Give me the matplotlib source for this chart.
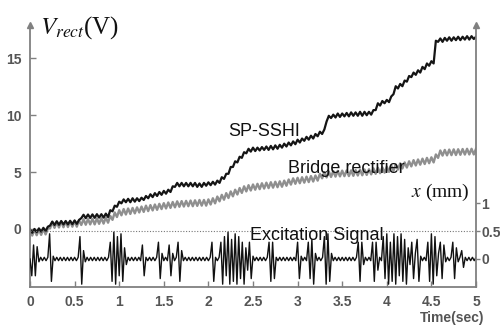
import matplotlib
matplotlib.use("Agg")
import matplotlib.pyplot as plt
import numpy as np

plt.rcParams['font.family'] = ['Liberation Sans', 'DejaVu Sans']
plt.rcParams['mathtext.fontset'] = 'stix'

# rectified voltage, sampled every 0.025 s from 0 to 5 s (V)
sp_sshi = [
    -0.05, -0.33, 0.0, -0.28, 0.05, -0.23, 0.1, -0.18,
    0.2, 0.3, 0.65, 0.35, 0.68, 0.37, 0.7, 0.4,
    0.7, 0.4, 0.72, 0.42, 0.75, 0.45, 0.8, 0.95,
    1.25, 0.95, 1.27, 0.97, 1.28, 0.98, 1.3, 1.0,
    1.3, 1.0, 1.35, 1.05, 1.65, 1.55, 2.05, 1.95,
    2.4, 2.25, 2.6, 2.35, 2.65, 2.35, 2.7, 2.4,
    2.7, 2.45, 2.75, 2.55, 2.9, 2.7, 3.05, 2.8,
    3.15, 2.9, 3.25, 3.0, 3.35, 3.1, 3.45, 3.25,
    3.75, 3.7, 4.05, 3.75, 4.05, 3.75, 4.05, 3.75,
    4.05, 3.75, 4.05, 3.7, 4.0, 3.7, 4.05, 3.8,
    4.1, 3.85, 4.15, 3.9, 4.25, 4.05, 4.55, 4.4,
    4.85, 4.85, 5.45, 5.45, 5.95, 5.85, 6.35, 6.25,
    6.75, 6.65, 7.05, 6.8, 7.15, 6.85, 7.15, 6.9,
    7.2, 6.95, 7.25, 6.95, 7.3, 7.0, 7.35, 7.05,
    7.4, 7.15, 7.5, 7.25, 7.6, 7.35, 7.7, 7.45,
    7.85, 7.6, 7.95, 7.75, 8.1, 7.85, 8.2, 7.95,
    8.35, 8.15, 8.55, 8.35, 8.75, 9.45, 9.95, 9.75,
    10.05, 9.8, 10.15, 9.85, 10.15, 9.9, 10.2, 9.9,
    10.25, 9.95, 10.25, 9.95, 10.3, 9.95, 10.3, 10.0,
    10.3, 10.05, 10.45, 10.45, 11.05, 10.85, 11.25, 11.05,
    11.35, 11.15, 11.65, 11.85, 12.55, 12.35, 12.75, 12.55,
    13.05, 12.95, 13.45, 13.35, 13.75, 13.55, 13.95, 13.75,
    14.25, 14.05, 14.55, 14.35, 14.75, 14.55, 16.55, 16.45,
    16.75, 16.45, 16.8, 16.55, 16.85, 16.55, 16.85, 16.6,
    16.9, 16.6, 16.9, 16.65, 16.95, 16.65, 16.95, 16.7,
    16.9,
]

bridge = [
    -0.1, -0.58, -0.05, -0.55, -0.03, -0.52, 0.0, -0.48,
    0.05, 0.05, 0.6, 0.1, 0.6, 0.13, 0.65, 0.15,
    0.65, 0.17, 0.67, 0.2, 0.7, 0.2, 0.75, 0.35,
    0.85, 0.37, 0.87, 0.4, 0.9, 0.4, 0.93, 0.45,
    0.95, 0.47, 1.0, 0.55, 1.15, 0.8, 1.45, 1.05,
    1.65, 1.2, 1.75, 1.27, 1.8, 1.32, 1.85, 1.37,
    1.9, 1.45, 1.97, 1.5, 2.05, 1.57, 2.1, 1.63,
    2.15, 1.68, 2.21, 1.75, 2.27, 1.8, 2.33, 1.85,
    2.37, 1.9, 2.43, 1.95, 2.45, 1.97, 2.47, 2.0,
    2.5, 2.0, 2.52, 2.03, 2.55, 2.05, 2.55, 2.05,
    2.6, 2.15, 2.7, 2.25, 2.85, 2.43, 3.0, 2.57,
    3.15, 2.72, 3.3, 2.87, 3.45, 3.03, 3.6, 3.17,
    3.75, 3.3, 3.85, 3.38, 3.91, 3.45, 3.97, 3.5,
    4.02, 3.55, 4.07, 3.59, 4.11, 3.63, 4.15, 3.67,
    4.19, 3.71, 4.25, 3.8, 4.35, 3.9, 4.45, 3.97,
    4.5, 4.02, 4.55, 4.07, 4.6, 4.12, 4.65, 4.17,
    4.7, 4.25, 4.85, 4.45, 5.0, 4.53, 5.05, 4.57,
    5.09, 4.6, 5.11, 4.62, 5.13, 4.64, 5.15, 4.65,
    5.15, 4.67, 5.18, 4.7, 5.21, 4.72, 5.23, 4.75,
    5.25, 4.8, 5.33, 4.85, 5.38, 4.9, 5.42, 4.95,
    5.47, 5.02, 5.57, 5.12, 5.67, 5.22, 5.77, 5.32,
    5.85, 5.4, 5.95, 5.5, 6.05, 5.58, 6.11, 5.65,
    6.18, 5.71, 6.25, 5.78, 6.3, 5.85, 6.55, 6.25,
    6.9, 6.45, 6.95, 6.47, 6.98, 6.49, 7.0, 6.5,
    7.01, 6.52, 7.03, 6.54, 7.05, 6.55, 7.05, 6.55,
    7.05,
]

# excitation displacement, sampled every 0.02 s (mm)
excitation = [
    0.0, -0.3, 0.25, -0.3, 0.22, -0.05, 0.03, -0.03, 0.03, -0.03,
    0.03, 0.45, -0.4, 0.05, -0.03, 0.03, -0.03, 0.03, -0.03, 0.03,
    -0.03, 0.03, -0.03, 0.03, -0.03, 0.03, -0.03, 0.03, 0.4, -0.45,
    0.15, -0.05, 0.03, -0.03, 0.03, -0.03, 0.03, -0.03, 0.03, -0.03,
    0.03, -0.03, 0.03, -0.03, 0.03, 0.3, -0.4, 0.48, -0.45, 0.4,
    -0.3, 0.45, -0.4, 0.2, -0.1, 0.03, -0.03, 0.03, -0.03, 0.03,
    -0.03, 0.03, -0.03, 0.25, -0.3, 0.03, -0.03, 0.03, -0.03, 0.03,
    -0.03, 0.03, 0.3, -0.35, 0.1, -0.03, 0.03, -0.03, 0.25, -0.3,
    0.1, -0.03, 0.03, 0.3, -0.4, 0.15, -0.03, 0.03, -0.03, 0.03,
    -0.03, 0.03, -0.03, 0.03, -0.03, 0.03, -0.03, 0.03, -0.03, 0.03,
    -0.03, 0.03, 0.3, -0.4, 0.03, -0.03, 0.03, 0.3, -0.45, 0.4,
    -0.3, 0.48, -0.45, 0.35, -0.4, 0.45, -0.45, 0.4, -0.35, 0.3,
    -0.45, 0.2, -0.2, 0.3, -0.35, 0.05, -0.03, 0.03, -0.03, 0.03,
    -0.03, 0.03, -0.03, 0.03, 0.3, -0.4, 0.3, -0.35, 0.03, -0.03,
    0.03, -0.03, 0.03, -0.03, 0.03, -0.03, 0.03, -0.03, 0.03, -0.03,
    0.3, -0.35, 0.05, -0.03, 0.03, -0.03, 0.3, -0.35, 0.35, -0.45,
    0.1, -0.03, 0.03, -0.03, 0.03, 0.4, -0.45, 0.45, -0.4, 0.1,
    -0.03, 0.03, -0.03, 0.03, -0.03, 0.03, -0.03, 0.03, -0.03, 0.03,
    -0.03, 0.03, -0.03, 0.03, 0.3, -0.4, 0.3, -0.1, 0.03, -0.03,
    0.03, -0.03, 0.3, -0.4, 0.3, -0.2, 0.03, -0.03, 0.4, -0.35,
    0.45, -0.45, 0.3, -0.4, 0.45, -0.45, 0.4, -0.3, 0.45, -0.4,
    0.35, -0.45, 0.2, -0.1, 0.3, -0.35, 0.1, 0.35, -0.4, 0.05,
    -0.03, 0.03, -0.03, 0.3, -0.4, 0.45, -0.45, 0.4, -0.3, 0.1,
    0.3, -0.35, 0.25, -0.05, 0.03, -0.03, 0.03, 0.3, -0.35, 0.2,
    -0.05, 0.03, 0.15, -0.15, 0.03, -0.03, 0.03, -0.03, 0.03, -0.03,
    0.03,
]

x_ticks = [0, 0.5, 1, 1.5, 2, 2.5, 3, 3.5, 4, 4.5, 5]
x_labels = ['0', '0.5', '1', '1.5', '2', '2.5', '3', '3.5', '4', '4.5', '5']
v_ticks = [0, 5, 10, 15]
mm_ticks = [0, 0.5, 1]
mm_labels = ['0', '0.5', '1']

t_v = np.linspace(0, 5, len(sp_sshi))
t_ex = np.linspace(0, 5, len(excitation))

spine_col = '#808080'
lab_col = '#555555'

fig = plt.figure(figsize=(5, 3.25), dpi=100)
ax = fig.add_axes([0.06, 0.117, 0.892, 0.806])
ax2 = ax.twinx()

ax.plot(t_v, bridge, color='#8f8f8f', lw=1.7)
ax.plot(t_v, sp_sshi, color='#151515', lw=1.6)
ax2.plot(t_ex, excitation, color='#111111', lw=1.0)
ax2.axhline(0.5, color='#777777', lw=0.8, ls=(0, (1, 1.5)))

ax.set_xlim(0, 5)
ax.set_ylim(-5.1, 17.93)
ax2.set_ylim(-0.5, 4.18)

for a in (ax, ax2):
    a.spines['top'].set_visible(False)
    for s in a.spines.values():
        s.set_color(spine_col)
        s.set_linewidth(1.3)
ax.spines['right'].set_visible(False)
ax2.spines['left'].set_visible(False)
ax2.spines['bottom'].set_visible(False)

ax.set_xticks(x_ticks)
ax.set_xticklabels(x_labels)
ax.set_yticks(v_ticks)
ax2.set_yticks(mm_ticks)
ax2.set_yticklabels(mm_labels)

ax.tick_params(axis='x', direction='in', length=4, width=1, color=spine_col, pad=6,
               labelsize=10, labelcolor=lab_col)
ax.tick_params(axis='y', direction='in', length=4, width=1, color=spine_col, pad=6,
               labelsize=10, labelcolor=lab_col)
ax2.tick_params(axis='y', direction='out', length=3, width=1, color=spine_col, pad=1,
                labelsize=10, labelcolor=lab_col)
for lab in ax.get_xticklabels() + ax.get_yticklabels() + ax2.get_yticklabels():
    lab.set_fontweight('bold')

# arrow heads on the vertical axes
ax.plot([0], [1], marker='^', color=spine_col, ms=4.5, transform=ax.transAxes, clip_on=False)
ax.plot([1], [1], marker='^', color=spine_col, ms=4.5, transform=ax.transAxes, clip_on=False)

ax2.text(2.62, 8.17, 'SP-SSHI', transform=ax.transData, fontsize=13, ha='center', va='baseline', color='#111111')
ax2.text(3.55, 4.92, 'Bridge rectifier', transform=ax.transData, fontsize=13, ha='center', va='baseline', color='#111111')
ax2.text(3.21, -0.97, 'Excitation Signal', transform=ax.transData, fontsize=13, ha='center', va='baseline', color='#111111')
ax2.text(4.93, 2.8, r'$x$ (mm)', transform=ax.transData, fontsize=14, ha='right', va='baseline',
         family='Liberation Serif', color='#111111')
fig.text(0.08, 0.898, r'$V_{rect}$(V)', fontsize=18, ha='left', va='baseline',
         family='Liberation Serif', color='#111111')
fig.text(0.905, 0.008, 'Time(sec)', fontsize=10, fontweight='bold', ha='center', va='baseline', color=lab_col)

fig.savefig('out.png', dpi=100)
